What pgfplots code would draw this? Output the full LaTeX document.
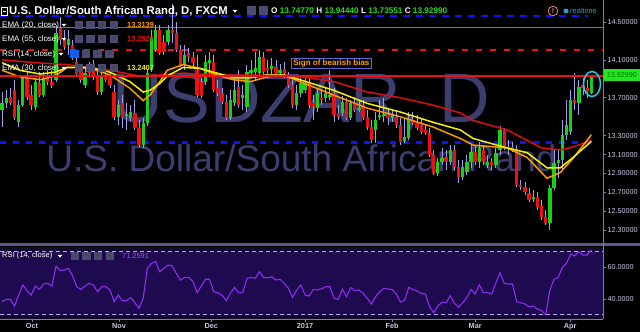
\documentclass[border=0pt]{standalone}
\usepackage{pgfplots}
\pgfplotsset{compat=1.18}
\usepackage{pgfplotstable}
\usepackage{fontspec}
\setmainfont{Liberation Sans}
\definecolor{wick}{HTML}{A0A0E6}
\definecolor{gbody}{HTML}{18D018}
\definecolor{rbody}{HTML}{EE1111}
\definecolor{ema20}{HTML}{FF9900}
\definecolor{ema30}{HTML}{F5F000}
\definecolor{ema55}{HTML}{DD1010}
\definecolor{wm}{HTML}{3C3E70}
\definecolor{lav}{HTML}{7C7CB8}
\definecolor{ticktext}{HTML}{C8C8E4}
\definecolor{rsiline}{HTML}{8E2CF0}
\definecolor{rsiband}{HTML}{1E0A4E}
\definecolor{rsibg}{HTML}{120830}
\definecolor{rsidash}{HTML}{B8A8F0}
\definecolor{dashblue}{HTML}{0A14FF}
\definecolor{cyanline}{HTML}{2090C8}
\definecolor{pgreen}{HTML}{22E622}
\definecolor{iconc}{HTML}{4A4A72}
\definecolor{numgreen}{HTML}{22DD22}
\definecolor{boxorange}{HTML}{FFA000}
\definecolor{boxborder}{HTML}{5A6AD0}
\definecolor{sep}{HTML}{5A5A88}
\definecolor{ellc}{HTML}{22CCEE}
\definecolor{rtc}{HTML}{2AA0C8}
\definecolor{warnc}{HTML}{E88080}
\definecolor{rsival}{HTML}{9B5CF0}

\pgfplotstableread{
i o h l c
0 13.57 13.76 13.39 13.64
1 13.64 13.78 13.59 13.70
2 13.71 13.80 13.62 13.64
3 13.78 13.89 13.46 13.49
4 13.44 13.68 13.39 13.62
5 13.62 13.94 13.60 13.91
6 13.91 13.97 13.68 13.71
7 13.73 13.83 13.57 13.62
8 13.60 13.91 13.57 13.87
9 13.86 13.97 13.71 13.73
10 13.73 13.97 13.71 13.91
11 13.93 13.99 13.83 13.87
12 13.87 13.99 13.80 13.83
13 13.89 14.47 13.87 14.38
14 14.44 14.55 14.26 14.31
15 14.33 14.42 14.20 14.24
16 14.26 14.42 14.15 14.32
17 14.26 14.31 14.10 14.12
18 14.08 14.15 13.93 13.95
19 13.97 14.05 13.86 13.89
20 13.83 14.01 13.80 13.96
21 13.99 14.08 13.93 13.96
22 13.99 14.10 13.89 13.93
23 13.92 13.99 13.73 13.76
24 13.76 13.97 13.73 13.93
25 13.93 13.99 13.87 13.89
26 13.91 13.97 13.80 13.83
27 13.76 13.83 13.46 13.50
28 13.50 13.68 13.41 13.62
29 13.64 13.73 13.38 13.49
30 13.51 13.64 13.36 13.53
31 13.49 13.62 13.45 13.55
32 13.54 13.68 13.36 13.38
33 13.38 13.46 13.18 13.20
34 13.20 13.49 13.17 13.43
35 13.43 13.99 13.40 13.96
36 13.99 14.42 13.97 14.33
37 14.20 14.47 14.18 14.42
38 14.42 14.47 14.15 14.17
39 14.29 14.36 14.15 14.18
40 14.29 14.47 14.26 14.42
41 14.42 14.69 14.28 14.38
42 14.38 14.50 14.18 14.20
43 14.20 14.26 14.02 14.05
44 14.05 14.26 13.99 14.15
45 14.17 14.23 14.08 14.13
46 14.13 14.18 14.01 14.07
47 13.99 14.15 13.71 13.73
48 13.87 13.91 13.70 13.73
49 13.87 14.15 13.83 14.08
50 14.07 14.18 13.94 14.10
51 14.08 14.15 13.76 13.78
52 13.80 13.89 13.72 13.75
53 13.75 13.80 13.63 13.65
54 13.65 13.73 13.46 13.49
55 13.49 13.78 13.46 13.68
56 13.64 13.89 13.61 13.78
57 13.81 13.99 13.59 13.62
58 13.70 13.83 13.57 13.73
59 13.60 14.05 13.55 13.97
60 13.96 14.10 13.91 13.99
61 13.97 14.18 13.89 14.01
62 13.96 14.20 13.93 14.13
63 14.13 14.18 13.93 13.97
64 14.01 14.10 13.91 13.99
65 14.00 14.12 13.94 14.04
66 14.02 14.10 13.93 13.96
67 13.96 14.06 13.93 13.99
68 14.00 14.08 13.91 13.96
69 13.92 13.97 13.80 13.83
70 13.83 13.89 13.59 13.62
71 13.62 13.83 13.57 13.75
72 13.75 13.91 13.71 13.86
73 13.78 13.94 13.75 13.86
74 13.87 13.94 13.59 13.62
75 13.64 13.73 13.46 13.60
76 13.59 13.80 13.55 13.75
77 13.70 13.78 13.62 13.68
78 13.70 13.80 13.65 13.75
79 13.71 13.99 13.68 13.73
80 13.75 13.80 13.44 13.52
81 13.54 13.62 13.46 13.50
82 13.54 13.72 13.51 13.65
83 13.65 13.70 13.46 13.49
84 13.49 13.68 13.46 13.64
85 13.64 13.71 13.55 13.57
86 13.57 13.68 13.55 13.59
87 13.62 13.68 13.46 13.50
88 13.50 13.57 13.36 13.39
89 13.39 13.46 13.22 13.25
90 13.36 13.55 13.22 13.46
91 13.50 13.68 13.46 13.52
92 13.51 13.70 13.44 13.53
93 13.52 13.59 13.41 13.49
94 13.49 13.57 13.44 13.53
95 13.50 13.57 13.38 13.41
96 13.41 13.49 13.20 13.23
97 13.24 13.49 13.22 13.29
98 13.27 13.55 13.25 13.46
99 13.46 13.55 13.41 13.43
100 13.43 13.52 13.36 13.38
101 13.41 13.49 13.32 13.34
102 13.36 13.41 13.31 13.33
103 13.33 13.38 13.07 13.10
104 13.10 13.15 12.88 12.91
105 12.91 13.06 12.87 13.02
106 13.02 13.17 12.99 13.06
107 13.07 13.15 12.94 13.03
108 13.02 13.20 12.99 13.15
109 13.15 13.20 12.94 12.97
110 12.97 13.04 12.80 12.86
111 12.86 13.04 12.83 12.97
112 12.92 13.10 12.88 13.02
113 13.02 13.20 12.96 13.13
114 13.13 13.20 12.99 13.02
115 13.02 13.23 12.96 13.17
116 13.15 13.20 12.99 13.02
117 12.99 13.10 12.96 13.02
118 13.02 13.06 12.94 12.99
119 12.99 13.17 12.96 13.12
120 13.15 13.40 13.10 13.36
121 13.36 13.38 13.15 13.18
122 13.18 13.25 13.10 13.16
123 13.18 13.23 13.13 13.16
124 13.16 13.20 12.76 12.78
125 12.78 12.83 12.73 12.76
126 12.76 12.81 12.67 12.70
127 12.69 12.75 12.60 12.62
128 12.63 12.73 12.60 12.65
129 12.65 12.70 12.51 12.55
130 12.56 12.62 12.41 12.44
131 12.44 12.51 12.36 12.38
132 12.38 12.78 12.30 12.75
133 12.75 13.15 12.73 13.01
134 13.01 13.15 12.85 13.04
135 13.04 13.46 12.94 13.31
136 13.31 13.68 13.25 13.41
137 13.34 13.78 13.31 13.68
138 13.68 13.96 13.57 13.64
139 13.64 13.89 13.52 13.81
140 13.83 13.91 13.73 13.80
141 13.80 13.89 13.70 13.76
142 13.7477 13.9444 13.7355 13.9299
}\candles

\pgfplotstableread{
i r
0 38.3
1 39.8
2 39.8
3 35.5
4 42.5
5 48.9
6 45.3
7 42.5
8 48.2
9 46.1
10 49.5
11 49.9
12 48.2
13 60.9
14 58.0
15 58.4
16 59.4
17 54.6
18 47.8
19 46.1
20 48.2
21 49.9
22 48.9
23 44.6
24 47.8
25 47.8
26 45.7
27 38.3
28 42.5
29 38.9
30 38.9
31 41.0
32 37.6
33 34.0
34 40.4
35 59.4
36 62.6
37 63.7
38 57.3
39 59.4
40 61.6
41 60.9
42 56.3
43 52.0
44 53.7
45 53.7
46 51.0
47 44.0
48 48.2
49 52.5
50 52.5
51 44.6
52 44.0
53 42.5
54 38.9
55 43.6
56 47.4
57 44.0
58 44.0
59 53.1
60 53.7
61 53.1
62 57.3
63 53.7
64 53.5
65 54.1
66 52.0
67 52.5
68 49.9
69 46.7
70 41.0
71 45.7
72 48.9
73 42.5
74 41.9
75 46.1
76 45.7
77 46.5
78 47.8
79 47.8
80 40.4
81 39.8
82 46.1
83 41.5
84 47.2
85 45.3
86 45.7
87 43.6
88 40.4
89 36.8
90 41.5
91 44.6
92 46.7
93 46.3
94 46.1
95 43.1
96 38.0
97 39.2
98 47.4
99 46.1
100 45.0
101 43.6
102 43.1
103 35.1
104 31.3
105 35.5
106 38.0
107 37.6
108 42.1
109 37.2
110 34.7
111 37.6
112 41.0
113 46.1
114 43.1
115 48.9
116 44.0
117 44.0
118 43.1
119 50.3
120 56.7
121 50.0
122 49.5
123 49.5
124 38.3
125 37.6
126 36.8
127 35.1
128 35.5
129 33.6
130 32.6
131 30.0
132 45.7
133 52.5
134 53.7
135 60.1
136 62.6
137 68.5
138 67.3
139 70.0
140 67.9
141 67.9
142 71.26
}\rsidata

\newcommand{\icons}[2]{%
  \node[fill=iconc, minimum size=8.5pt, inner sep=0, text=black!75, font=\fontsize{6}{6}\selectfont] at (#1pt,#2pt) {o};
  \node[fill=iconc, minimum size=8.5pt, inner sep=0, text=black!75, font=\fontsize{6}{6}\selectfont] at ({#1pt+11.5pt},#2pt) {*};
  \node[fill=iconc, minimum size=8.5pt, inner sep=0, text=black!75, font=\bfseries\fontsize{8}{8}\selectfont] at ({#1pt+23pt},#2pt) {+};
  \node[fill=iconc, minimum size=8.5pt, inner sep=0, text=black!75, font=\fontsize{8}{8}\selectfont] at ({#1pt+35pt},#2pt) {×};
}
\newcommand{\tri}[2]{\fill[white] ({#1pt-2.5pt},{#2pt+1.2pt}) -- ({#1pt+2.5pt},{#2pt+1.2pt}) -- (#1pt,{#2pt-1.6pt}) -- cycle;}

\begin{document}
\begin{tikzpicture}
\fill[black] (0pt,0pt) rectangle (640pt,332pt);
\useasboundingbox (0pt,0pt) rectangle (640pt,332pt);
% watermark
\node[anchor=base, text=wm, font=\fontsize{70}{70}\selectfont, inner sep=0, text height=50pt] at (301.5pt,209pt) {USDZAR, D};
\node[anchor=base, text=wm, font=\fontsize{37}{37}\selectfont, inner sep=0] at (301.5pt,160pt) {U.S. Dollar/South African Rand};

\begin{axis}[at={(0pt,87pt)}, anchor=south west, scale only axis, width=603pt, height=245pt,
  xmin=-0.5, xmax=144.8, ymin=12.145, ymax=14.732,
  axis line style={draw=none}, xtick=\empty,
  ytick={12.3,12.5,12.7,12.9,13.1,13.3,13.7,14.1,14.5},
  yticklabels={12.30000,12.50000,12.70000,12.90000,13.10000,13.30000,13.70000,14.10000,14.50000},
  ytick pos=right, yticklabel pos=right, tick align=outside, major tick length=3pt,
  tick style={lav, line width=0.7pt},
  yticklabel style={font=\fontsize{7.2}{8}\selectfont, text=ticktext, inner xsep=1.5pt},
  clip=true]
\addplot[dashblue, line width=2.4pt, dash pattern=on 7pt off 6pt] coordinates {(-0.5,14.563) (141.2,14.563)};
\addplot[cyanline, line width=1.1pt] coordinates {(-0.5,14.437) (144.8,14.437)};
\addplot[rbody, line width=1.6pt, dash pattern=on 6pt off 8pt] coordinates {(-0.5,14.207) (144.8,14.207)};
\addplot[dashblue, line width=2.6pt, dash pattern=on 6pt off 7pt] coordinates {(-0.5,13.228) (143.4,13.228)};
% wicks
\addplot[draw=none, mark=none, error bars/.cd, y dir=both, y explicit, error mark=none,
  error bar style={draw=wick, line width=0.9pt}]
  table[x=i, y expr={(\thisrow{h}+\thisrow{l})/2}, y error expr={(\thisrow{h}-\thisrow{l})/2}] {\candles};
% bodies up
\addplot[draw=none, mark=none, restrict expr to domain={\thisrow{c}-\thisrow{o}}{0:10},
  error bars/.cd, y dir=both, y explicit, error mark=none,
  error bar style={draw=gbody, line width=3.3pt}]
  table[x=i, y expr={(\thisrow{o}+\thisrow{c})/2}, y error expr={abs(\thisrow{c}-\thisrow{o})/2}] {\candles};
% bodies down
\addplot[draw=none, mark=none, restrict expr to domain={\thisrow{c}-\thisrow{o}}{-10:0},
  error bars/.cd, y dir=both, y explicit, error mark=none,
  error bar style={draw=rbody, line width=3.3pt}]
  table[x=i, y expr={(\thisrow{o}+\thisrow{c})/2}, y error expr={abs(\thisrow{c}-\thisrow{o})/2}] {\candles};
% EMA 55
\addplot[ema55, line width=1.5pt] coordinates {(0,14.10) (8,14.07) (15.7,14.05) (26,13.99) (33,13.93) (38,13.94) (43.6,13.96) (52,13.94) (60,13.94) (68,13.94) (74,13.91) (80,13.87) (88,13.76) (96,13.70) (104,13.62) (110.4,13.54) (113.5,13.46) (121.7,13.36) (126.5,13.25) (130,13.17) (134.5,13.15) (137.6,13.18) (142,13.25)};
% EMA 20
\addplot[ema20, line width=1.5pt] coordinates {(0,13.99) (4.3,13.92) (9.2,13.89) (12.8,13.93) (15.7,14.02) (21.2,14.01) (26,13.94) (30.8,13.80) (34,13.67) (35.7,13.73) (38,13.87) (39.8,13.99) (43.6,14.05) (47.7,14.01) (51.8,13.94) (55.7,13.89) (59.8,13.87) (63.9,13.92) (67.7,13.94) (71.8,13.87) (79.8,13.73) (88,13.59) (95.9,13.50) (103.9,13.39) (110.4,13.27) (113.5,13.20) (121.7,13.17) (126.5,13.07) (131.3,12.85) (134.5,12.91) (137.6,13.06) (142,13.31)};
% EMA 30
\addplot[ema30, line width=1.5pt] coordinates {(0,14.07) (4.3,13.99) (9.2,13.95) (12.8,13.97) (15.7,14.02) (21.2,14.02) (26,13.97) (30.8,13.87) (34,13.76) (35.7,13.78) (38,13.85) (39.8,13.93) (43.6,14.02) (47.7,14.01) (51.8,13.96) (55.7,13.91) (59.8,13.91) (63.9,13.94) (67.7,13.94) (71.8,13.89) (79.8,13.78) (88,13.64) (95.9,13.55) (103.9,13.44) (110.4,13.36) (113.5,13.27) (121.7,13.17) (126.5,13.12) (131.3,12.96) (134.5,12.96) (137.6,13.07) (142,13.24)};
% last price line
\addplot[rbody, line width=1.6pt] coordinates {(-0.5,13.93) (144.8,13.93)};
\end{axis}

\begin{axis}[at={(0pt,13pt)}, anchor=south west, scale only axis, width=603pt, height=72pt,
  xmin=-0.5, xmax=144.8, ymin=27.3, ymax=73.0,
  axis line style={draw=none}, axis background/.style={fill=rsibg},
  ytick={40,60}, yticklabels={40.0000,60.0000},
  ytick pos=right, yticklabel pos=right,
  xtick={7.2,28.2,50.4,73,94,114,136.9}, xticklabels={Oct,Nov,Dec,2017,Feb,Mar,Apr},
  xtick pos=bottom, xticklabel pos=bottom,
  tick align=outside, major tick length=3pt, tick style={lav, line width=0.7pt},
  yticklabel style={font=\fontsize{7.2}{8}\selectfont, text=ticktext, inner xsep=1.5pt},
  xticklabel style={font=\bfseries\fontsize{7.3}{8}\selectfont, text=ticktext, inner ysep=1pt},
  clip=true]
\fill[rsiband] (axis cs:-0.5,30) rectangle (axis cs:144.8,70);
\addplot[rsidash, line width=0.9pt, dash pattern=on 4pt off 3pt] coordinates {(-0.5,70) (144.8,70)};
\addplot[rsidash, line width=0.9pt, dash pattern=on 4pt off 3pt] coordinates {(-0.5,30) (144.8,30)};
\addplot[rsiline, line width=1.1pt] table[x=i, y=r] {\rsidata};
\end{axis}

% frame lines
\draw[sep, line width=3pt] (0pt,87pt) -- (640pt,87pt);
\draw[lav, line width=0.8pt] (603pt,13pt) -- (603pt,332pt);
\draw[lav, line width=0.8pt] (0pt,13pt) -- (603pt,13pt);

% price label
\fill[pgreen] (603.5pt,251pt) rectangle (640pt,263pt);
\node[text=green!45!black, font=\fontsize{7.2}{8}\selectfont, inner sep=0] at (621.8pt,257pt) {13.92990};

% annotation box and ellipse
\node[draw=boxborder, fill=black, line width=0.8pt, text=boxorange, font=\bfseries\fontsize{8}{9}\selectfont, inner xsep=2pt, inner ysep=1.5pt, anchor=west] at (291pt,268.5pt) {Sign of bearish bias};
\draw[ellc, line width=1.5pt] (592pt,248pt) ellipse (8.5pt and 12.5pt);

% title row
\draw[white, line width=0.6pt] (1.5pt,317pt) rectangle (7.5pt,325pt);
\draw[white, line width=0.6pt] (3pt,321pt) -- (6pt,321pt);
\node[anchor=west, text=white, font=\bfseries\fontsize{11.3}{12}\selectfont, inner sep=0] at (9pt,321pt) {U.S. Dollar/South African Rand, D, FXCM};
\tri{235}{321}
\node[fill=iconc, minimum size=9pt, inner sep=0] at (251pt,321pt) {};
\node[fill=iconc, minimum size=9pt, inner sep=0] at (263pt,321pt) {};
\node[anchor=west, font=\bfseries\fontsize{8.2}{9}\selectfont, inner sep=0] at (271pt,321pt) {\textcolor{white}{O} \textcolor{numgreen}{13.74770} \textcolor{white}{H} \textcolor{numgreen}{13.94440} \textcolor{white}{L} \textcolor{numgreen}{13.73551} \textcolor{white}{C} \textcolor{numgreen}{13.92990}};
\draw[warnc, line width=0.8pt] (553pt,321pt) circle (4.8pt);
\node[text=warnc, font=\bfseries\fontsize{7}{7}\selectfont, inner sep=0] at (553pt,321pt) {!};
\fill[rtc] (566pt,321pt) circle (2.5pt);
\node[anchor=west, text=rtc, font=\fontsize{7.5}{8}\selectfont, inner sep=0] at (570pt,321pt) {realtime};

% indicator legend rows
\node[anchor=west, text=white, font=\fontsize{8}{9}\selectfont, inner sep=0] at (2pt,307pt) {EMA (20, close)};
\tri{64}{307}
\icons{79}{307}
\node[anchor=west, text=ema20, font=\bfseries\fontsize{7.4}{8}\selectfont, inner sep=0] at (127pt,307pt) {13.3139};

\node[anchor=west, text=white, font=\fontsize{8}{9}\selectfont, inner sep=0] at (2pt,293pt) {EMA (55, close)};
\tri{64}{293}
\icons{79}{293}
\node[anchor=west, text=ema55, font=\bfseries\fontsize{7.4}{8}\selectfont, inner sep=0] at (127pt,293pt) {13.2527};

\node[anchor=west, text=white, font=\fontsize{8}{9}\selectfont, inner sep=0] at (2pt,278pt) {RSI (14, close)};
\tri{61}{278}
\icons{74.5}{278}
\node[fill=blue!60!cyan, minimum size=8.5pt, inner sep=0, text=red, font=\fontsize{6}{6}\selectfont] at (74.5pt,278pt) {o};

\node[anchor=west, text=white, font=\fontsize{8}{9}\selectfont, inner sep=0] at (2pt,264pt) {EMA (30, close)};
\tri{64}{264}
\icons{79}{264}
\node[anchor=west, text=ema30, font=\bfseries\fontsize{7.4}{8}\selectfont, inner sep=0] at (127pt,264pt) {13.2407};

% RSI legend
\node[anchor=west, text=white, font=\fontsize{7.6}{8}\selectfont, inner sep=0] at (2pt,76pt) {RSI (14, close)};
\tri{60}{76}
\icons{75}{76}
\node[anchor=west, text=rsival, font=\fontsize{7.4}{8}\selectfont, inner sep=0] at (122pt,76pt) {71.2591};
\end{tikzpicture}
\end{document}
